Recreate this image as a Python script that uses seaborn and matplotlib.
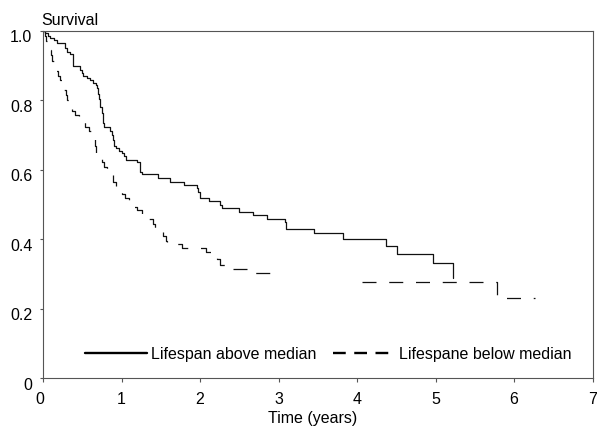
import matplotlib
matplotlib.use("Agg")
import matplotlib.pyplot as plt
import seaborn as sns
import pandas as pd
from matplotlib.lines import Line2D
from matplotlib.transforms import ScaledTranslation

# ---- data ----
above_time = [0.00, 0.03, 0.06, 0.09, 0.14, 0.18, 0.28, 0.31, 0.35, 0.38, 0.47, 0.50, 0.51,
              0.56, 0.60, 0.64, 0.67, 0.69, 0.70, 0.71, 0.72, 0.73, 0.75, 0.76, 0.77, 0.78,
              0.85, 0.88, 0.89, 0.91, 0.93, 0.97, 1.00, 1.03, 1.06, 1.20, 1.23, 1.24, 1.26,
              1.46, 1.62, 1.79, 1.96, 1.98, 2.00, 2.12, 2.25, 2.28, 2.49, 2.67, 2.85, 3.08,
              3.10, 3.45, 3.82, 4.37, 4.51, 4.97, 5.22]
above_surv = [1.000, 0.993, 0.986, 0.980, 0.973, 0.965, 0.950, 0.940, 0.934, 0.900, 0.889,
              0.878, 0.870, 0.865, 0.858, 0.850, 0.844, 0.835, 0.820, 0.805, 0.790, 0.780,
              0.765, 0.750, 0.735, 0.723, 0.712, 0.700, 0.685, 0.670, 0.662, 0.655, 0.648,
              0.641, 0.630, 0.622, 0.610, 0.595, 0.589, 0.576, 0.566, 0.558, 0.548, 0.535,
              0.518, 0.510, 0.500, 0.489, 0.479, 0.470, 0.460, 0.449, 0.431, 0.417, 0.401,
              0.381, 0.358, 0.331, 0.290]

below_time_1 = [0.00, 0.02, 0.04, 0.06, 0.08, 0.10, 0.12, 0.15, 0.17, 0.19, 0.22, 0.24, 0.27,
                0.29, 0.31, 0.34, 0.37, 0.41, 0.46, 0.50, 0.53, 0.58, 0.61, 0.64, 0.66, 0.68,
                0.72, 0.75, 0.78, 0.82, 0.86, 0.89, 0.93, 0.96, 1.00, 1.05, 1.10, 1.13, 1.20,
                1.26, 1.33, 1.40, 1.42, 1.48, 1.53, 1.56, 1.58, 1.77, 2.07, 2.14, 2.21, 2.25,
                2.41, 2.70, 3.02]
below_surv_1 = [1.000, 0.985, 0.970, 0.958, 0.945, 0.930, 0.915, 0.900, 0.885, 0.870, 0.858,
                0.845, 0.830, 0.815, 0.800, 0.785, 0.770, 0.758, 0.750, 0.740, 0.725, 0.712,
                0.700, 0.688, 0.670, 0.650, 0.635, 0.622, 0.608, 0.598, 0.585, 0.565, 0.555,
                0.545, 0.530, 0.520, 0.505, 0.492, 0.485, 0.470, 0.460, 0.445, 0.432, 0.425,
                0.410, 0.396, 0.386, 0.375, 0.365, 0.357, 0.343, 0.326, 0.316, 0.304, 0.304]
below_time_2 = [4.06, 5.78, 6.27]
below_surv_2 = [0.276, 0.230, 0.230]

x_ticks = [0, 1, 2, 3, 4, 5, 6, 7]
x_tick_labels = ["0", "1", "2", "3", "4", "5", "6", "7"]
y_ticks = [0.0, 0.2, 0.4, 0.6, 0.8, 1.0]
y_tick_labels = ["0", "0.2", "0.4", "0.6", "0.8", "1.0"]
legend_labels = ["Lifespan above median", "Lifespane below median"]
x_label = "Time (years)"
y_label = "Survival"

# ---- style ----
sns.set_theme(style="white")
plt.rcParams["font.family"] = ["Liberation Sans", "DejaVu Sans"]
plt.rcParams["font.size"] = 11.5
plt.rcParams["text.color"] = "black"
plt.rcParams["axes.labelcolor"] = "black"

fig = plt.figure(figsize=(5.97, 4.35), dpi=100)
W, H = 597.0, 435.0
left, right, top, bottom = 43.0, 592.7, 32.0, 379.3
ax = fig.add_axes([left / W, 1 - bottom / H, (right - left) / W, (bottom - top) / H])

LINE_COLOR = "#111111"
LW = 0.9
DASH = (0, (11.2, 10.2))

df_above = pd.DataFrame({"time": above_time, "survival": above_surv})
sns.lineplot(data=df_above, x="time", y="survival", ax=ax, color=LINE_COLOR,
             linewidth=LW, drawstyle="steps-post", estimator=None, sort=True)

for t, s in [(below_time_1, below_surv_1), (below_time_2, below_surv_2)]:
    d = pd.DataFrame({"time": t, "survival": s})
    sns.lineplot(data=d, x="time", y="survival", ax=ax, color=LINE_COLOR,
                 linewidth=LW, drawstyle="steps-post", linestyle=DASH,
                 estimator=None, sort=True)

ax.set_xlim(0, 7)
ax.set_ylim(0, 1.0)
ax.set_xticks(x_ticks)
ax.set_xticklabels(x_tick_labels)
ax.set_yticks(y_ticks)
ax.set_yticklabels(y_tick_labels)

for sp in ax.spines.values():
    sp.set_visible(True)
    sp.set_color("#555555")
    sp.set_linewidth(0.8)

ax.tick_params(axis="x", bottom=True, direction="out", length=3.2, width=0.8,
               color="#555555", labelcolor="black", pad=6.3, labelsize=11.5)
ax.tick_params(axis="y", left=True, direction="out", length=2.2, width=0.8,
               color="#555555", labelcolor="black", pad=5.5, labelsize=11.5)

# small offsets of tick labels as in the reference
for lab in ax.get_yticklabels():
    lab.set_transform(lab.get_transform() + ScaledTranslation(0, -4.5 / 100, fig.dpi_scale_trans))
xl0 = ax.get_xticklabels()[0]
xl0.set_transform(xl0.get_transform() + ScaledTranslation(-3.5 / 100, 0, fig.dpi_scale_trans))

ax.set_xlabel(x_label, fontsize=11.5)
ax.xaxis.set_label_coords(0.4905, -0.0913)
ax.set_ylabel("")
ax.annotate(y_label, xy=(0, 1), xycoords="axes fraction", xytext=(-1, 5.3),
            textcoords="offset points", ha="left", va="baseline", fontsize=11.5)

handles = [Line2D([], [], color="black", linewidth=1.7),
           Line2D([], [], color="black", linewidth=1.7, linestyle=(0, (5.4, 3.6)))]
ax.legend(handles, legend_labels, loc="center left", bbox_to_anchor=(0.0757, 0.07),
          ncol=2, frameon=False, borderpad=0, borderaxespad=0, handlelength=3.88,
          handletextpad=0.3, columnspacing=1.0, fontsize=11.5)

fig.savefig("out.png", dpi=100)
